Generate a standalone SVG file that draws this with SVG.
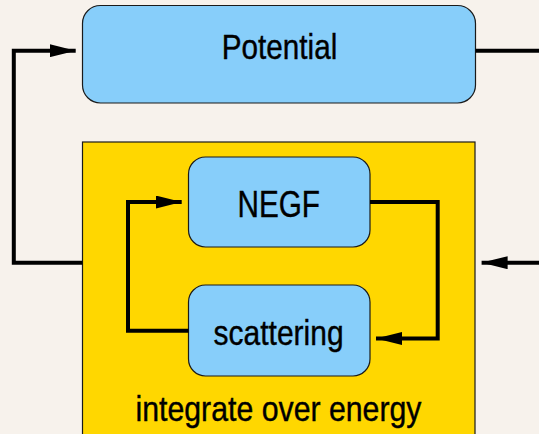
<svg xmlns="http://www.w3.org/2000/svg" width="539" height="434" viewBox="0 0 539 434">
<defs>
<style>
.box{fill:#87cefa;stroke:#1a1a1a;stroke-width:1.2}
.lbl{font-family:"Liberation Sans",Arial,sans-serif;font-size:35px;fill:#000;stroke:#000;stroke-width:0.4;text-anchor:middle}
.wire{fill:none;stroke:#000;stroke-width:4;stroke-linejoin:miter;stroke-linecap:butt}
</style>
<marker id="ah" viewBox="0 0 26 13" refX="26" refY="6.5" markerWidth="26" markerHeight="13" markerUnits="userSpaceOnUse" orient="auto">
<path d="M0,0 L26,6.5 L0,13 z" fill="#000"/>
</marker>
</defs>
<rect width="539" height="434" fill="#f7f2ec"/>
<g id="integrate">
<rect x="82.5" y="142" width="392.5" height="300" fill="#ffd700" stroke="#1a1a1a" stroke-width="1.2"/>
<text class="lbl" x="278.5" y="421" textLength="286" lengthAdjust="spacingAndGlyphs">integrate over energy</text>
</g>
<g id="potential">
<rect class="box" x="82.5" y="5.5" width="393" height="97.5" rx="18"/>
<text class="lbl" x="279.5" y="59" textLength="115.5" lengthAdjust="spacingAndGlyphs">Potential</text>
</g>
<g id="negf">
<rect class="box" x="188.5" y="157" width="181.5" height="90" rx="17"/>
<text class="lbl" x="278.7" y="217.3" textLength="82.5" lengthAdjust="spacingAndGlyphs" style="font-size:37px">NEGF</text>
</g>
<g id="scattering">
<rect class="box" x="188.5" y="285" width="181.5" height="91" rx="17"/>
<text class="lbl" x="278.6" y="345" textLength="130" lengthAdjust="spacingAndGlyphs">scattering</text>
</g>
<g id="connectors">
<path class="wire" d="M82.5,262.7 L13.8,262.7 L13.8,50.7 L75.7,50.7" marker-end="url(#ah)"/>
<path class="wire" d="M475.5,50.7 L539,50.7"/>
<path class="wire" d="M539,262.7 L481.6,262.7" marker-end="url(#ah)"/>
<path class="wire" d="M188.5,330.7 L128,330.7 L128,202 L181.7,202" marker-end="url(#ah)"/>
<path class="wire" d="M370,202 L437.7,202 L437.7,338.5 L376,338.5" marker-end="url(#ah)"/>
</g>
</svg>
